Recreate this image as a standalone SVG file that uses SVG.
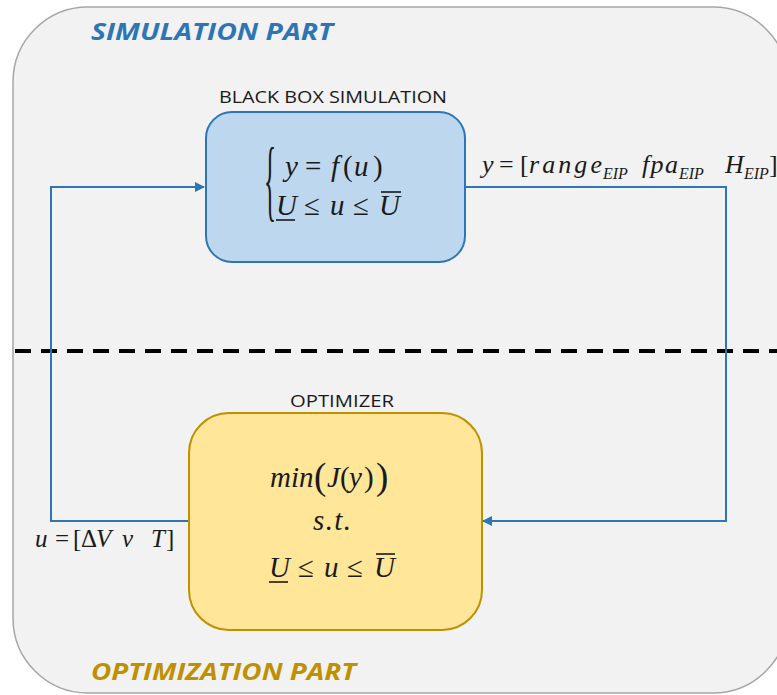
<svg xmlns="http://www.w3.org/2000/svg" width="777" height="695" viewBox="0 0 777 695">
<style>
.math{font-family:"Liberation Serif","DejaVu Serif",serif;font-size:29px;fill:#1a1a1a}
.it{font-style:italic}
.sub{font-size:16px;font-style:italic}
.lbl{font-family:"Open Sans","Liberation Sans",sans-serif;font-size:17px;fill:#1a1a1a}
.part{font-family:"Open Sans","Liberation Sans",sans-serif;font-size:24px;font-weight:bold;font-style:italic}
.conn{fill:none;stroke:#2E75B6;stroke-width:2}
.bar{stroke:#1a1a1a;stroke-width:1.6}
</style>
<defs>
<marker id="arr" markerWidth="10" markerHeight="10" refX="9" refY="5" orient="auto" markerUnits="userSpaceOnUse">
<path d="M0,0 L10,5 L0,10 z" fill="#2E75B6"/>
</marker>
</defs>
<g id="background">
<rect x="13" y="7" width="775" height="686" rx="75" ry="75" fill="#F2F2F2" stroke="#A6A6A6" stroke-width="1.5"/>
<text class="part" x="91" y="40" fill="#2E75B6" textLength="242" lengthAdjust="spacingAndGlyphs">SIMULATION PART</text>
<text class="part" x="91" y="680" fill="#BF9000" textLength="265" lengthAdjust="spacingAndGlyphs">OPTIMIZATION PART</text>
<line x1="15" y1="351" x2="777" y2="351" stroke="#000" stroke-width="4" stroke-dasharray="16,10"/>
</g>
<g id="connectors">
<polyline class="conn" points="465,187 726,187 726,521 483,521" marker-end="url(#arr)"/>
<polyline class="conn" points="190,521 51,521 51,187 204,187" marker-end="url(#arr)"/>
<g id="label-y" class="math" style="font-size:26px">
<text x="482" y="173" class="it">y</text>
<text x="499" y="173">=</text>
<text x="520" y="173">[</text>
<text x="529" y="173" class="it" textLength="73">range</text>
<text x="603" y="179" class="sub">EIP</text>
<text x="642" y="173" class="it" textLength="36">fpa</text>
<text x="679" y="179" class="sub">EIP</text>
<text x="725" y="173" class="it">H</text>
<text x="744" y="179" class="sub">EIP</text>
<text x="769" y="173">]</text>
</g>
<g id="label-u" class="math" style="font-size:25px">
<text x="35" y="547" class="it">u</text>
<text x="55" y="547">=</text>
<text x="73" y="547">[</text>
<text x="81" y="547">Δ</text>
<text x="96" y="547" class="it">V</text>
<text x="122" y="547" class="it">ν</text>
<text x="151" y="547" class="it">T</text>
<text x="166" y="547">]</text>
</g>
</g>
<g id="blackbox">
<text class="lbl" x="333" y="103" text-anchor="middle" textLength="228" lengthAdjust="spacingAndGlyphs">BLACK BOX SIMULATION</text>
<rect x="206" y="112" width="259" height="150" rx="26" ry="26" fill="#BDD7EE" stroke="#2E75B6" stroke-width="2"/>
<text class="math" style="font-size:90px" transform="translate(264,210) scale(0.28,1)">{</text>
<text class="math it" x="285" y="176">y</text>
<text class="math" x="305" y="176">=</text>
<text class="math it" x="331" y="176">f</text>
<text class="math" x="343" y="176">(</text>
<text class="math it" x="354" y="176">u</text>
<text class="math" x="373" y="176">)</text>
<text class="math it" x="276" y="215">U</text>
<text class="math" x="304" y="215">≤</text>
<text class="math it" x="330" y="215">u</text>
<text class="math" x="353" y="215">≤</text>
<text class="math it" x="379" y="215">U</text>
<line class="bar" x1="276" y1="220" x2="295" y2="220"/>
<line class="bar" x1="381" y1="192" x2="401" y2="192"/>
</g>
<g id="optimizer">
<text class="lbl" x="342" y="407" text-anchor="middle" textLength="104" lengthAdjust="spacingAndGlyphs">OPTIMIZER</text>
<rect x="189" y="413" width="293" height="217" rx="40" ry="40" fill="#FFE699" stroke="#BF9000" stroke-width="2"/>
<text class="math it" x="270" y="487">min</text>
<text class="math" x="314" y="489" style="font-size:37px">(</text>
<text class="math it" x="327" y="487">J</text>
<text class="math" x="340" y="487">(</text>
<text class="math it" x="349" y="487">y</text>
<text class="math" x="364" y="487">)</text>
<text class="math" x="376" y="489" style="font-size:37px">)</text>
<text class="math it" x="313" y="530" textLength="38">s.t.</text>
<text class="math it" x="269" y="577">U</text>
<text class="math" x="298" y="577">≤</text>
<text class="math it" x="324" y="577">u</text>
<text class="math" x="347" y="577">≤</text>
<text class="math it" x="374" y="577">U</text>
<line class="bar" x1="269" y1="582" x2="288" y2="582"/>
<line class="bar" x1="376" y1="554" x2="395" y2="554"/>
</g>
</svg>
